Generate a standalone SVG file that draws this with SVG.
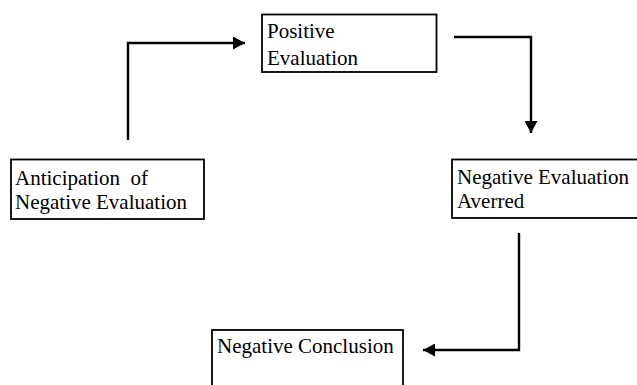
<svg xmlns="http://www.w3.org/2000/svg" width="637" height="385" viewBox="0 0 637 385">
  <style>
    .box { fill: #ffffff; stroke: #000000; stroke-width: 1.8; }
    .label { font-family: "Liberation Serif", "Times New Roman", serif; font-size: 21px; fill: #000000; }
    .conn { fill: none; stroke: #000000; stroke-width: 2.4; stroke-linejoin: miter; }
  </style>
  <defs>
    <marker id="arrow" viewBox="0 0 12 13" refX="12" refY="6.5" markerWidth="12" markerHeight="13" markerUnits="userSpaceOnUse" orient="auto">
      <path d="M0,0 L12,6.5 L0,13 Z" fill="#000000"/>
    </marker>
  </defs>
  <rect width="637" height="385" fill="#ffffff"/>

  <g id="positive-evaluation">
    <rect class="box" x="262" y="14.5" width="174.5" height="57.5"/>
    <text class="label" x="267" y="38">Positive</text>
    <text class="label" x="267" y="65">Evaluation</text>
  </g>

  <g id="anticipation">
    <rect class="box" x="11" y="159.5" width="193" height="59.5"/>
    <text class="label" x="15" y="185" xml:space="preserve">Anticipation  of</text>
    <text class="label" x="15" y="209">Negative Evaluation</text>
  </g>

  <g id="negative-evaluation-averred">
    <rect class="box" x="452" y="159.5" width="200" height="58.5"/>
    <text class="label" x="457" y="184">Negative Evaluation</text>
    <text class="label" x="457" y="208">Averred</text>
  </g>

  <g id="negative-conclusion">
    <rect class="box" x="212" y="330" width="191" height="70"/>
    <text class="label" x="217" y="353">Negative Conclusion</text>
  </g>

  <g id="connectors">
    <path class="conn" d="M128,140 L128,43 L245,43" marker-end="url(#arrow)"/>
    <path class="conn" d="M454,37 L531,37 L531,133" marker-end="url(#arrow)"/>
    <path class="conn" d="M519,233 L519,350 L423,350" marker-end="url(#arrow)"/>
  </g>
</svg>
